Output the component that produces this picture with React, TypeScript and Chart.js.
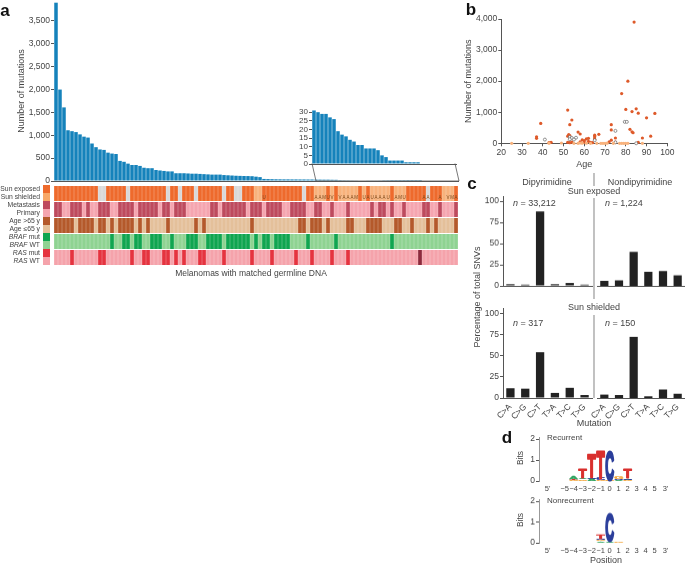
import { useEffect, useRef } from 'react';
import Chart from 'chart.js/auto';

const FONT = '"Liberation Sans", Arial, sans-serif';
const INK = '#444';
const AXIS = '#555';

// panel a
const insetValues = [31, 30, 29, 29, 27, 26, 19, 17, 16, 14, 13, 11, 11, 9, 9, 9, 8, 5, 4, 2, 2, 2, 2, 1, 1, 1, 1, 0, 0, 0, 0, 0, 0, 0, 0, 0];
const headValues = [
  3900, 2000, 1610, 1110, 1090, 1070, 1020, 970, 950, 820,
  740, 690, 680, 620, 600, 590, 440, 420, 380, 350,
  350, 330, 290, 280, 280, 240, 230, 220, 210, 210,
  170, 170, 170, 165, 160, 160, 155, 150, 145, 140,
  140, 140, 130, 125, 120, 115, 112, 110, 108, 105,
  95, 85, 45, 42, 40, 38, 37, 36, 36, 35,
  35, 34, 34, 33, 33,
];
const sampleValues = [...headValues, ...insetValues];
const mainTicks = [0, 500, 1000, 1500, 2000, 2500, 3000, 3500];
const insetTicks = [0, 5, 10, 15, 20, 25, 30];

// one letter per sample, grouped by ten
const sunRow = 'EEEEEEEEEE E--EEEEE-E EEEEEEEE-E E-EEE-EEEE EE-EE--EEE SSEEEEEEEE EE-EESSSES ESSSSSESES SSSSESSSEE EEE-EEESSS E';
const metRow = 'MMPPMMMPMP PMMMPPMMMM PMMMMMPMMP MMMPPPPPPM MPMMMMMMPM MMPMMMMPPM MMMPPMMPPM PPPMPPPPPM PMMPMPPMPP PPMMPPMPPP M';
const ageRow = 'OOOOOYOOOO YOOYOYOOOO YOYOYYYYOY YYYYYOYOYY YYYYYYYYYO YYYYYYYYYY YOOYOOOYOY YYYOOYYYOO OOYYYOOYYO YYYOYOYYYY O';
const brafRow = 'WWWWWWWWWW WWWWMWWMMW MMWWMMMWWM WWWMMMWWMM MMWMMMMMMW MWMMWMMMMW WWWMWWWWWW MWWWWWWWWW WWWWMWWWWW WWWWWWWWWW W';
const rasRow = 'WWWWMWWWWW WMMWWWWWWM WWMMWWWMMW MWMWWWMMWW WWMWWWWWWM WWWWMWWWWW MWWWMWWWWM WWWMWWWWWW WWWWWWWWWW WXWWWWWWWW W';
const sunNotes = '.......... .......... .......... .......... .......... ..U....... .....AAMUV .VAAAM.UAU AAAU.AMU.. ..AA..A.VM A';

const sunColors: Record<string, string> = { E: '#EE6A2C', S: '#F8B27C', '-': '#D9D9D9' };
const metColors: Record<string, string> = { M: '#BE4A5E', P: '#F5A5B0' };
const ageColors: Record<string, string> = { O: '#B4592B', Y: '#E4C09A' };
const brafColors: Record<string, string> = { M: '#10A550', W: '#8FD392' };
const rasColors: Record<string, string> = { M: '#E5333F', W: '#F5A3AB', X: '#8E2A3C' };

const legendLabels = [
  ['Sun exposed', '#EE6A2C'], ['Sun shielded', '#F8A868'],
  ['Metastasis', '#BE4A5E'], ['Primary', '#F5A5B0'],
  ['Age >65 y', '#B4592B'], ['Age ≤65 y', '#E4C09A'],
  ['BRAF mut', '#10A550'], ['BRAF WT', '#8FD392'],
  ['RAS mut', '#E5333F'], ['RAS WT', '#F5A3AB'],
];

// panel b
const exposedPoints = [
  [84, 3900], [81, 2000], [78, 1600], [52, 1070], [80, 1090], [85, 1110], [83, 1020], [86, 970], [94, 960], [90, 820],
  [54, 750], [39, 640], [53, 600], [73, 600], [73, 430], [82, 450], [83, 370], [83.5, 340], [57, 360], [58, 300],
  [67, 290], [52.5, 280], [53, 250], [52, 230], [92, 230], [37, 210], [37, 160], [88, 170], [75, 170], [65, 260],
  [65, 220], [65, 170], [65, 130], [62, 160], [61, 140], [59, 110], [60, 90], [62, 60], [58, 50], [73, 100],
  [72, 50], [44, 30], [43, 20], [52, 30], [54, 40], [53, 20], [60, 30], [63, 30], [64, 20], [75, 40], [86, 30],
];
const shieldedPoints = [
  [25, 0], [33, 0], [49, 10], [43, 5], [57, 0], [59, 5], [61, 5], [63, 0], [68, 0], [69, 0], [70, 0], [71, 5],
  [77, 0], [78, 0], [79, 0], [80, 0], [81, 0], [88, 0], [55, 0], [58, 10], [66, 0], [74, 0],
];
const otherPoints = [
  [41, 120], [75, 400], [79.5, 690], [80.5, 690], [53, 200], [54, 170], [56, 180], [53, 130], [55, 120], [65, 100], [85, 0], [75, 30],
];

// panel c
const mutationTypes = ['C>A', 'C>G', 'C>T', 'T>A', 'T>C', 'T>G'];
const exposedDi = [2, 1.5, 88, 2, 3.5, 1.5];
const exposedNon = [6, 6.5, 40, 16.5, 17.5, 12.5];
const shieldedDi = [11.5, 11, 54, 6, 12, 3.5];
const shieldedNon = [4, 3.5, 72, 2, 10, 5];

// panel d
const logoTicks = [-6.9, -5, -4, -3, -2, -1, 0, 1, 2, 3, 4, 5, 6.2];
const logoTickLabels = ["5'", '−5', '−4', '−3', '−2', '−1', '0', '1', '2', '3', '4', '5', "3'"];
const letterColors: Record<string, string> = { T: '#D9302E', C: '#2B3E9B', G: '#F2A63D', A: '#2FA35F' };
const recurrentLogo: [number, [string, number][]][] = [
  [-5, [['G', 0.02]]],
  [-4, [['G', 0.04], ['T', 0.07], ['A', 0.14]]],
  [-3, [['G', 0.08], ['A', 0.07], ['T', 0.4]]],
  [-2, [['A', 0.1], ['C', 0.08], ['T', 1.02]]],
  [-1, [['G', 0.04], ['C', 0.1], ['T', 1.26]]],
  [0, [['G', 0.03], ['C', 1.37]]],
  [1, [['A', 0.04], ['C', 0.06], ['G', 0.1]]],
  [2, [['G', 0.03], ['A', 0.04], ['C', 0.08], ['T', 0.4]]],
  [3, [['A', 0.02]]],
  [4, [['G', 0.01]]],
];
const nonrecurrentLogo: [number, [string, number][]][] = [
  [-2, [['G', 0.02]]],
  [-1, [['A', 0.08], ['G', 0.05], ['C', 0.07], ['T', 0.2]]],
  [0, [['A', 0.06], ['C', 1.29]]],
  [1, [['G', 0.03]]],
  [2, [['C', 0.02]]],
];

const cells = (row: string) => row.replace(/ /g, '').split('');
const noPlugins = { legend: { display: false }, tooltip: { enabled: false } };
const tickFont = { family: FONT, size: 8.5 };
const titleFont = { family: FONT, size: 9 };

// y axis with tick marks; the width is fixed so the plot sits where it should
function yAxis(width: number, values: number[], extra: any) {
  return {
    afterFit: (s: any) => { s.width = width; },
    afterBuildTicks: (s: any) => { s.ticks = values.map((value) => ({ value })); },
    grid: { display: true, drawOnChartArea: false, tickLength: 3, tickColor: AXIS },
    border: { display: true, color: AXIS },
    ticks: { color: INK, font: tickFont, padding: 1, autoSkip: false, callback: (v: number) => v.toLocaleString('en-US') },
    ...extra,
  };
}

function hiddenX(height: number) {
  return {
    afterFit: (s: any) => { s.height = height; },
    grid: { display: false, drawTicks: false },
    border: { display: true, color: AXIS },
    ticks: { display: false },
  };
}

function mainConfig() {
  return {
    type: 'bar',
    data: {
      labels: sampleValues.map((_, i) => String(i + 1)),
      datasets: [{ data: sampleValues, backgroundColor: '#1582BB', barPercentage: 1, categoryPercentage: 0.88 }],
    },
    options: {
      responsive: false,
      animation: false,
      layout: { autoPadding: false, padding: { top: 11, right: 4 } },
      plugins: noPlugins,
      scales: {
        x: hiddenX(9),
        y: yAxis(54, mainTicks, {
          min: 0,
          max: 3937,
          border: { display: false },
          title: { display: true, text: 'Number of mutations', color: INK, font: titleFont, padding: { top: 16, bottom: 0 } },
        }),
      },
    },
  };
}

function insetConfig() {
  return {
    type: 'bar',
    data: {
      labels: insetValues.map((_, i) => String(i + 1)),
      datasets: [{ data: insetValues, backgroundColor: '#1582BB', barPercentage: 1, categoryPercentage: 0.88 }],
    },
    options: {
      responsive: false,
      animation: false,
      layout: { autoPadding: false, padding: { top: 6, right: 4 } },
      plugins: noPlugins,
      scales: {
        x: hiddenX(12),
        y: yAxis(32, insetTicks, {
          min: 0,
          max: 33,
          border: { display: false },
          ticks: { color: INK, font: { family: FONT, size: 8 }, padding: 1, autoSkip: false },
        }),
      },
    },
  };
}

const sunNotesPlugin = {
  id: 'sunNotes',
  afterDatasetsDraw(chart: any) {
    const notes = cells(sunNotes);
    const ctx = chart.ctx;
    const meta = chart.getDatasetMeta(4);
    ctx.save();
    ctx.font = `4.5px ${FONT}`;
    ctx.fillStyle = '#7A4A1E';
    ctx.textAlign = 'center';
    ctx.textBaseline = 'middle';
    notes.forEach((n, i) => {
      if (n !== '.' && meta.data[i]) ctx.fillText(n, meta.data[i].x, chart.scales.y.getPixelForValue(4.2));
    });
    ctx.restore();
  },
};

function matrixConfig() {
  const rows: [string, Record<string, string>][] = [
    [rasRow, rasColors], [brafRow, brafColors], [ageRow, ageColors], [metRow, metColors], [sunRow, sunColors],
  ];
  return {
    type: 'bar',
    data: {
      labels: sampleValues.map((_, i) => String(i + 1)),
      datasets: rows.map(([row, colors]) => ({
        data: cells(row).map(() => 1),
        backgroundColor: cells(row).map((c) => colors[c]),
        borderColor: '#fff',
        borderWidth: { top: 1, bottom: 0, left: 0, right: 0 },
        barPercentage: 1,
        categoryPercentage: 0.94,
      })),
    },
    options: {
      responsive: false,
      animation: false,
      layout: { autoPadding: false },
      plugins: noPlugins,
      scales: {
        x: { display: false, stacked: true },
        y: { display: false, stacked: true, min: 0, max: 5 },
      },
    },
    plugins: [sunNotesPlugin],
  };
}

function scatterConfig() {
  const toXY = (pts: number[][]) => pts.map(([x, y]) => ({ x, y }));
  return {
    type: 'scatter',
    data: {
      datasets: [
        { data: toXY(shieldedPoints), backgroundColor: '#F8B27C', pointRadius: 1.6, borderWidth: 0, clip: false },
        { data: toXY(otherPoints), backgroundColor: '#fff', borderColor: '#666', pointRadius: 1.5, borderWidth: 0.7, clip: false },
        { data: toXY(exposedPoints), backgroundColor: '#DE5A2A', pointRadius: 1.6, borderWidth: 0, clip: false },
      ],
    },
    options: {
      responsive: false,
      animation: false,
      layout: { autoPadding: false, padding: { top: 19, right: 17.7 } },
      plugins: noPlugins,
      scales: {
        x: {
          type: 'linear',
          min: 20,
          max: 100,
          afterFit: (s: any) => { s.height = 26.7; },
          grid: { display: true, drawOnChartArea: false, tickLength: 3, tickColor: AXIS },
          border: { display: true, color: AXIS },
          ticks: { color: INK, font: tickFont, padding: 1, stepSize: 10 },
          title: { display: true, text: 'Age', color: INK, font: titleFont, padding: { top: 2, bottom: 0 } },
        },
        y: yAxis(41.3, [0, 1000, 2000, 3000, 4000], {
          min: 0,
          max: 4000,
          title: { display: true, text: 'Number of mutations', color: INK, font: titleFont, padding: { top: 3, bottom: 0 } },
        }),
      },
    },
  };
}

function snvConfig(values: number[], padding: any, withAxis: boolean, withLabels: boolean) {
  return {
    type: 'bar',
    data: {
      labels: mutationTypes,
      datasets: [{ data: values, backgroundColor: '#222', barPercentage: 0.56, categoryPercentage: 1 }],
    },
    options: {
      responsive: false,
      animation: false,
      layout: { autoPadding: false, padding },
      plugins: noPlugins,
      scales: {
        x: withLabels
          ? {
              afterFit: (s: any) => { s.height = 24; },
              grid: { display: false, drawTicks: false },
              border: { display: true, color: AXIS },
              ticks: { color: INK, font: tickFont, padding: 4, minRotation: 45, maxRotation: 45, autoSkip: false },
            }
          : hiddenX(8),
        y: withAxis
          ? yAxis(33, [0, 25, 50, 75, 100], { min: 0, max: 106 })
          : { display: false, min: 0, max: 106 },
      },
    },
  };
}

const logoPlugin = {
  id: 'logoLetters',
  afterDatasetsDraw(chart: any, _args: any, opts: any) {
    const { ctx, scales } = chart;
    const pitch = Math.abs(scales.x.getPixelForValue(1) - scales.x.getPixelForValue(0));
    ctx.save();
    ctx.font = `bold 100px ${FONT}`;
    ctx.textBaseline = 'alphabetic';
    ctx.textAlign = 'left';
    ctx.lineJoin = 'round';
    opts.stacks.forEach(([pos, letters]: [number, [string, number][]]) => {
      let base = 0;
      letters.forEach(([letter, bits]) => {
        const m = ctx.measureText(letter);
        const w = m.actualBoundingBoxLeft + m.actualBoundingBoxRight;
        const h = m.actualBoundingBoxAscent + m.actualBoundingBoxDescent;
        const bottom = scales.y.getPixelForValue(base);
        const top = scales.y.getPixelForValue(base + bits);
        const cx = scales.x.getPixelForValue(pos);
        ctx.save();
        ctx.translate(cx - pitch * 0.45, bottom);
        ctx.scale((pitch * 0.9) / w, (bottom - top) / h);
        ctx.fillStyle = letterColors[letter];
        ctx.strokeStyle = letterColors[letter];
        ctx.lineWidth = 8;
        ctx.fillText(letter, m.actualBoundingBoxLeft, -m.actualBoundingBoxDescent);
        ctx.strokeText(letter, m.actualBoundingBoxLeft, -m.actualBoundingBoxDescent);
        ctx.restore();
        base += bits;
      });
    });
    ctx.restore();
  },
};

function logoConfig(stacks: [number, [string, number][]][]) {
  return {
    type: 'scatter',
    data: { datasets: [{ data: stacks.map(([x]) => ({ x, y: 0 })), pointRadius: 0 }] },
    options: {
      responsive: false,
      animation: false,
      layout: { autoPadding: false, padding: { top: 7, right: 10 } },
      plugins: { ...noPlugins, logoLetters: { stacks } },
      scales: {
        x: {
          type: 'linear',
          min: -7.85,
          max: 6.7,
          afterFit: (s: any) => { s.height = 12; },
          afterBuildTicks: (s: any) => { s.ticks = logoTicks.map((value) => ({ value })); },
          grid: { display: false, drawTicks: false },
          border: { display: false },
          ticks: {
            color: INK,
            font: { family: FONT, size: 7.5 },
            padding: 3,
            maxRotation: 0,
            autoSkip: false,
            callback: (v: number) => logoTickLabels[logoTicks.indexOf(v)],
          },
        },
        y: yAxis(49, [0, 1, 2], { min: 0, max: 2.1, border: { display: true, color: '#999' } }),
      },
    },
    plugins: [logoPlugin],
  };
}

function ChartBox({ left, top, width, height, config }: any) {
  const canvasRef = useRef<HTMLCanvasElement | null>(null);
  useEffect(() => {
    if (!canvasRef.current) return;
    const chart = new Chart(canvasRef.current, config());
    return () => chart.destroy();
  }, []);
  return <canvas ref={canvasRef} width={width} height={height} style={{ position: 'absolute', left, top, width, height }} />;
}

function Label({ x, y, anchor = 'center', size = 9, color = INK, rotate = 0, weight = 400, children }: any) {
  const shift = anchor === 'left' ? '0' : anchor === 'right' ? '-100%' : '-50%';
  return (
    <div
      style={{
        position: 'absolute',
        left: x,
        top: y,
        transform: `translate(${shift}, -50%) rotate(${rotate}deg)`,
        font: `${weight} ${size}px ${FONT}`,
        color,
        whiteSpace: 'nowrap',
        lineHeight: 1,
      }}
    >
      {children}
    </div>
  );
}

function legendText(text: string) {
  const gene = text.match(/^(BRAF|RAS) (.*)$/);
  if (!gene) return text;
  return <><i>{gene[1]}</i> {gene[2]}</>;
}

const upperLeftPad = { top: 5.7, right: 6 };
const upperRightPad = { top: 5.7, left: 25, right: 10 };
const lowerLeftPad = { top: 6, right: 6 };
const lowerRightPad = { top: 6, left: 25, right: 10 };

export default function App() {
  return (
    <div style={{ position: 'absolute', left: 0, top: 0, width: 685, height: 565, background: '#fff', overflow: 'hidden' }}>
      <ChartBox left={0} top={-10} width={462} height={200} config={mainConfig} />
      <ChartBox left={280} top={101} width={180} height={75} config={insetConfig} />
      <ChartBox left={54} top={185} width={404} height={80} config={matrixConfig} />
      <ChartBox left={460} top={0} width={225} height={170} config={scatterConfig} />
      <ChartBox left={470} top={190} width={128} height={103.7} config={() => snvConfig(exposedDi, upperLeftPad, true, false)} />
      <ChartBox left={572} top={190} width={123} height={103.7} config={() => snvConfig(exposedNon, upperRightPad, false, false)} />
      <ChartBox left={470} top={302} width={128} height={120} config={() => snvConfig(shieldedDi, lowerLeftPad, true, true)} />
      <ChartBox left={572} top={302} width={123} height={120} config={() => snvConfig(shieldedNon, lowerRightPad, false, true)} />
      <ChartBox left={490} top={430} width={190} height={63} config={() => logoConfig(recurrentLogo)} />
      <ChartBox left={490} top={492} width={190} height={62.7} config={() => logoConfig(nonrecurrentLogo)} />

      <svg width={685} height={565} style={{ position: 'absolute', left: 0, top: 0, pointerEvents: 'none' }}>
        <path d="M312 163.5 L316 181 M455 163.5 L459 181 M316 181 H459" stroke="#555" strokeWidth={0.8} fill="none" />
        <path d="M594 173 V186 M594 198 V299 M594 315 V398" stroke="#999" strokeWidth={1.2} fill="none" />
      </svg>

      {legendLabels.map(([text, color], i) => (
        <div key={text}>
          <div style={{ position: 'absolute', left: 43, top: 185 + i * 8, width: 7, height: 8, background: color }} />
          <Label x={40} y={188.5 + i * 8.1} anchor="right" size={6.8}>{legendText(text)}</Label>
        </div>
      ))}
      <Label x={251} y={273} size={8.5}>Melanomas with matched germline DNA</Label>

      <Label x={477} y={297} rotate={-90} size={9}>Percentage of total SNVs</Label>
      <Label x={547} y={182}>Dipyrimidine</Label>
      <Label x={640} y={182}>Nondipyrimidine</Label>
      <Label x={594} y={191}>Sun exposed</Label>
      <Label x={594} y={307}>Sun shielded</Label>
      <Label x={513} y={203} anchor="left"><i>n</i> = 33,212</Label>
      <Label x={605} y={203} anchor="left"><i>n</i> = 1,224</Label>
      <Label x={513} y={323} anchor="left"><i>n</i> = 317</Label>
      <Label x={605} y={323} anchor="left"><i>n</i> = 150</Label>
      <Label x={594} y={423}>Mutation</Label>

      <Label x={547} y={438} anchor="left" size={8}>Recurrent</Label>
      <Label x={547} y={501} anchor="left" size={8}>Nonrecurrent</Label>
      <Label x={520} y={458} rotate={-90} size={8.5}>Bits</Label>
      <Label x={520} y={520} rotate={-90} size={8.5}>Bits</Label>
      <Label x={606} y={560} size={9}>Position</Label>

      <Label x={5} y={10} size={17} weight={700} color="#111">a</Label>
      <Label x={471} y={9} size={17} weight={700} color="#111">b</Label>
      <Label x={472} y={183} size={17} weight={700} color="#111">c</Label>
      <Label x={507} y={437} size={17} weight={700} color="#111">d</Label>
    </div>
  );
}
